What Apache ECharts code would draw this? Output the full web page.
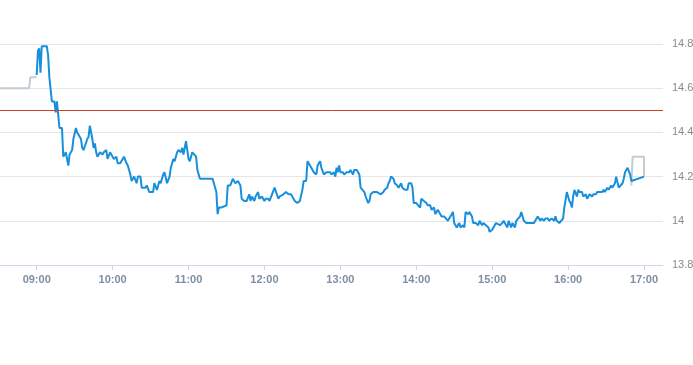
<!DOCTYPE html>
<html>
<head>
<meta charset="utf-8">
<script src="https://cdn.jsdelivr.net/npm/echarts@6/dist/echarts.min.js"></script>
<style>
html,body{margin:0;padding:0;background:#fff;}
#chart{width:693px;height:365px;}
</style>
</head>
<body>
<div id="chart"></div>
<script>
// ---- data ----
var xTickLabels = ['09:00','10:00','11:00','12:00','13:00','14:00','15:00','16:00','17:00'];
var yTicks = [13.8, 14, 14.2, 14.4, 14.6, 14.8];
var refLevel = 14.5;

var preTimes  = ['08:31','08:54','08:55','09:00'];
var preValues = [14.60, 14.60, 14.65, 14.65];

var postTimes  = ['16:50','16:51','17:00','17:00'];
var postValues = [14.16, 14.29, 14.29, 14.20];

var mainTimes = [
'09:00','09:01','09:02','09:03','09:04','09:08','09:09','09:10','09:12','09:14','09:15','09:16','09:17','09:18','09:20','09:21','09:22','09:23','09:24','09:25','09:26','09:28','09:29','09:31','09:32','09:33','09:35','09:36','09:37','09:38','09:40','09:41','09:42','09:44','09:45','09:46','09:47','09:48','09:50','09:52','09:53','09:55','09:56','09:58','09:59',
'10:01','10:03','10:04','10:06','10:07','10:09','10:11','10:12','10:14','10:15','10:17','10:19','10:20','10:22','10:23','10:26','10:27','10:29','10:30','10:32','10:33','10:35','10:37','10:38','10:40','10:41','10:43','10:45','10:46','10:48','10:49','10:51','10:52','10:54','10:55','10:56','10:58',
'11:00','11:01','11:03','11:04','11:06','11:07','11:09','11:11','11:15','11:17','11:19','11:20','11:22','11:23','11:24','11:26','11:27','11:30','11:31','11:33','11:35','11:37','11:39','11:41','11:42','11:44','11:46','11:48','11:49','11:50','11:52','11:53','11:55','11:56','11:58',
'12:00','12:01','12:03','12:04','12:06','12:08','12:09','12:11','12:12','12:15','12:17','12:19','12:21','12:22','12:24','12:26','12:28','12:30','12:31','12:33','12:34','12:36','12:37','12:39','12:41','12:42','12:44','12:45','12:47','12:49','12:50','12:52','12:53','12:55','12:56','12:57','12:58','12:59',
'13:00','13:02','13:03','13:05','13:07','13:08','13:10','13:11','13:13','13:14','13:15','13:16','13:17','13:19','13:20','13:22','13:23','13:24','13:26','13:27','13:29','13:30','13:32','13:34','13:35','13:37','13:38','13:39','13:40','13:42','13:43','13:45','13:46','13:48','13:49','13:51','13:53','13:54','13:56','13:57','13:58',
'14:00','14:01','14:03','14:04','14:06','14:08','14:09','14:11','14:12','14:14','14:15','14:17','14:19','14:20','14:22','14:23','14:25','14:26','14:27','14:29','14:30','14:32','14:34','14:35','14:37','14:38','14:39','14:41','14:42','14:44','14:45','14:47','14:49','14:50','14:52','14:53','14:55','14:57','14:58',
'15:00','15:01','15:03','15:04','15:06','15:08','15:09','15:11','15:12','15:13','15:15','15:16','15:18','15:19','15:20','15:22','15:23','15:25','15:27','15:28','15:30','15:31','15:33','15:34','15:36','15:38','15:39','15:41','15:42','15:44','15:45','15:47','15:49','15:50','15:51','15:53','15:54','15:56','15:57','15:59',
'16:01','16:02','16:03','16:04','16:05','16:07','16:08','16:09','16:11','16:12','16:14','16:15','16:17','16:19','16:20','16:22','16:23','16:25','16:27','16:28','16:29','16:31','16:32','16:34','16:35','16:37','16:38','16:40','16:41','16:43','16:44','16:45','16:47','16:48','16:49','16:50','17:00'
];
var mainValues = [
14.66,14.77,14.78,14.67,14.79,14.79,14.75,14.65,14.54,14.54,14.49,14.54,14.48,14.42,14.42,14.29,14.29,14.31,14.31,14.25,14.30,14.32,14.37,14.42,14.40,14.39,14.37,14.33,14.32,14.32,14.37,14.38,14.43,14.37,14.33,14.35,14.31,14.29,14.31,14.30,14.31,14.32,14.28,14.31,14.31,
14.28,14.29,14.26,14.26,14.26,14.29,14.26,14.25,14.21,14.18,14.20,14.17,14.20,14.20,14.15,14.15,14.16,14.13,14.13,14.13,14.17,14.14,14.18,14.17,14.21,14.22,14.17,14.20,14.24,14.28,14.27,14.31,14.32,14.31,14.33,14.30,14.36,
14.28,14.27,14.31,14.31,14.29,14.23,14.19,14.19,14.19,14.19,14.19,14.19,14.13,14.03,14.06,14.06,14.06,14.07,14.16,14.16,14.19,14.17,14.18,14.16,14.10,14.09,14.09,14.12,14.09,14.11,14.09,14.11,14.13,14.10,14.11,
14.09,14.10,14.10,14.09,14.12,14.15,14.15,14.10,14.11,14.12,14.13,14.12,14.12,14.11,14.09,14.08,14.09,14.14,14.18,14.18,14.27,14.25,14.24,14.22,14.21,14.25,14.27,14.24,14.21,14.22,14.22,14.22,14.21,14.22,14.20,14.24,14.22,14.25,
14.22,14.22,14.21,14.22,14.22,14.23,14.21,14.23,14.23,14.23,14.21,14.15,14.15,14.13,14.11,14.08,14.09,14.12,14.13,14.13,14.13,14.13,14.12,14.13,14.14,14.15,14.17,14.18,14.20,14.19,14.17,14.16,14.15,14.17,14.15,14.14,14.14,14.17,14.17,14.15,14.08,
14.08,14.08,14.06,14.10,14.09,14.08,14.07,14.07,14.05,14.06,14.03,14.05,14.03,14.02,14.02,14.02,14.00,14.01,14.02,14.04,13.99,13.97,13.99,13.97,13.98,13.97,14.04,14.03,14.04,14.02,13.99,13.99,13.98,14.00,13.98,13.99,13.98,13.97,13.95,
13.96,13.97,13.99,13.99,13.98,13.99,14.00,13.98,13.97,14.00,13.97,13.99,13.97,14.00,14.00,14.02,14.04,14.00,13.99,13.99,13.99,13.99,13.99,13.99,14.02,14.00,14.01,14.00,14.01,14.01,14.00,14.01,14.00,14.02,14.00,13.99,13.99,14.01,14.06,14.13,
14.09,14.08,14.06,14.11,14.14,14.11,14.14,14.13,14.13,14.11,14.12,14.10,14.12,14.11,14.12,14.12,14.13,14.13,14.13,14.14,14.13,14.15,14.14,14.16,14.15,14.17,14.20,14.15,14.15,14.17,14.19,14.22,14.24,14.24,14.21,14.18,14.20
];

// ---- helpers ----
function toMin(s){ var p = s.split(':'); return (+p[0])*60 + (+p[1]); }
function pad(n){ return (n<10?'0':'') + n; }
function fmt(m){ return pad(Math.floor(m/60)) + ':' + pad(Math.round(m%60)); }
function pairs(ts, vs){ return ts.map(function(t,i){ return [toMin(t), vs[i]]; }); }

var tickMins = xTickLabels.map(toMin);

var chart = echarts.init(document.getElementById('chart'), null, {renderer:'canvas'});
chart.setOption({
  animation:false,
  grid:{left:0, right:30, top:44, bottom:100, containLabel:false, outerBoundsMode:'none'},
  xAxis:{
    type:'value',
    min: toMin('08:31'),
    max: toMin('17:15'),
    splitLine:{show:false},
    axisLine:{show:true, lineStyle:{color:'#ccd6eb', width:1}},
    axisTick:{show:true, customValues:tickMins, length:5, lineStyle:{color:'#ccd6eb'}},
    axisLabel:{customValues:tickMins, formatter:function(v){return fmt(v);}, color:'#7f8ea3', fontSize:11, fontWeight:'bold', margin:9, fontFamily:'Liberation Sans, Arial, sans-serif'}
  },
  yAxis:{
    type:'value',
    position:'right',
    min: yTicks[0],
    max: yTicks[yTicks.length-1],
    interval:0.2,
    axisLine:{show:false},
    axisTick:{show:false},
    splitLine:{show:true, lineStyle:{color:'#e6e6e6', width:1}},
    axisLabel:{color:'#8a8a8a', fontSize:11, margin:9, fontFamily:'Liberation Sans, Arial, sans-serif',
      formatter:function(v){ return String(Math.round(v*10)/10); }}
  },
  series:[
    {type:'line', data:pairs(preTimes, preValues), showSymbol:false, lineStyle:{color:'#c3cbd3', width:2}, itemStyle:{color:'#c3cbd3'}, z:2},
    {type:'line', data:pairs(postTimes, postValues), showSymbol:false, lineStyle:{color:'#c3cbd3', width:2}, itemStyle:{color:'#c3cbd3'}, z:2},
    {type:'line', data:pairs(mainTimes, mainValues), showSymbol:false, lineStyle:{color:'#178fdd', width:2}, itemStyle:{color:'#178fdd'}, z:3,
      markLine:{silent:true, symbol:['none','none'], label:{show:false},
        lineStyle:{color:'#d8392c', width:1, type:'solid'}, data:[{yAxis:refLevel}]}}
  ]
});
</script>
</body>
</html>
